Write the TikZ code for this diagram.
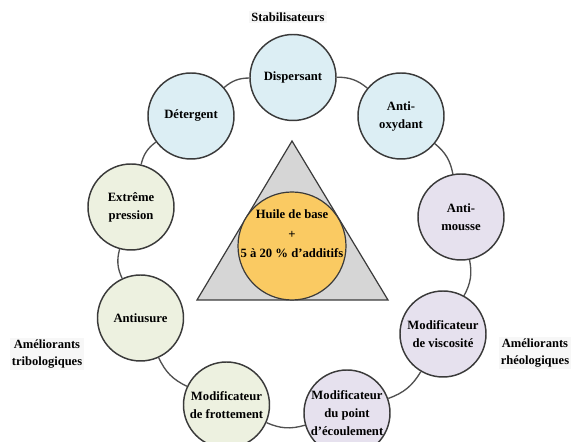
\documentclass[tikz,border=0pt]{standalone}
\usepackage{fontspec}
\setmainfont{Liberation Serif}
\usetikzlibrary{calc,positioning}

\definecolor{stabBlue}{HTML}{DCEEF4}
\definecolor{triboGreen}{HTML}{EDF1E0}
\definecolor{rheoPurple}{HTML}{E6E1EE}
\definecolor{huileOrange}{HTML}{FACA62}
\definecolor{triGray}{HTML}{D6D6D6}
\definecolor{edgeGray}{HTML}{3A3A3A}
\definecolor{ringGray}{HTML}{505050}

\begin{document}
\begin{tikzpicture}[x=0.75pt,y=0.75pt,
  additif/.style={circle,draw=edgeGray,line width=1.1pt,minimum size=64.5pt,
    inner sep=0pt,align=center,font=\fontsize{9.5}{13.5}\selectfont\bfseries},
  stab/.style={additif,fill=stabBlue},
  tribo/.style={additif,fill=triboGreen},
  rheo/.style={additif,fill=rheoPurple},
  famille/.style={align=center,fill=black!3,inner sep=1.5pt,
    font=\fontsize{9.4}{13}\selectfont\bfseries},
  anneau/.style={draw=ringGray,line width=1pt,bend right=20}
]
\useasboundingbox (0,0) rectangle (579,442);

\draw[edgeGray,line width=0.9pt,fill=triGray] (292,301) -- (388,142) -- (197,142) -- cycle;
\node[circle,draw=edgeGray,line width=0.9pt,fill=huileOrange,minimum size=81pt,inner sep=0pt] (huile) at (292,196) {};
\node[align=center,font=\fontsize{9.5}{14.5}\selectfont\bfseries] (huiletxt) at (292,208)
  {Huile de base\\+\\5 à 20 \% d’additifs};

\node[stab] (disp) at (293,364.5) {Dispersant};
\node[stab] (deter) at (191,326) {Détergent};
\node[stab] (antiox) at (401,326) {Anti-\\oxydant};
\node[tribo] (extreme) at (131,235) {Extrême\\pression};
\node[tribo] (usure) at (140.5,124) {Antiusure};
\node[tribo] (frott) at (226.5,37) {Modificateur\\de frottement};
\node[rheo] (mousse) at (461,225) {Anti-\\mousse};
\node[rheo] (visc) at (443,108) {Modificateur\\de viscosité};
\node[rheo] (point) at (347,29) {Modificateur\\du point\\d’écoulement};

\foreach \a/\b in {disp/deter,deter/extreme,extreme/usure,usure/frott,frott/point,
  point/visc,visc/mousse,mousse/antiox,antiox/disp}
  \draw[anneau] (\a) to (\b);

\node[famille] (stabtxt) at (288,425) {Stabilisateurs};
\node[famille] (tribotxt) at (47,88) {Améliorants\\tribologiques};
\node[famille] (rheotxt) at (535,89) {Améliorants\\rhéologiques};
\end{tikzpicture}
\end{document}
